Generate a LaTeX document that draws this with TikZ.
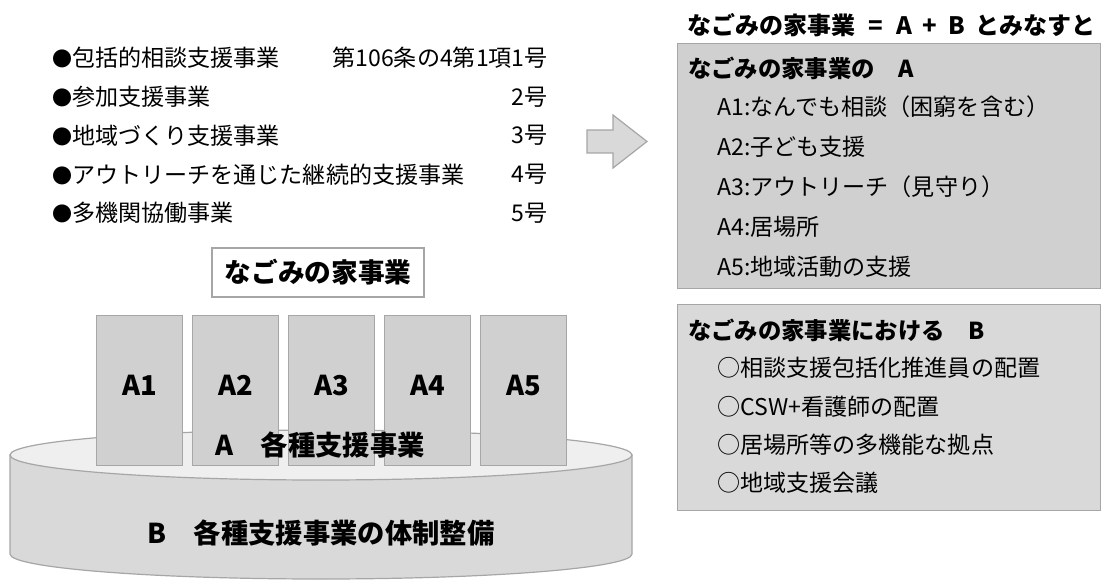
\documentclass[tikz,border=0pt]{standalone}
\usepackage{fontspec}
\setmainfont{Noto Sans CJK JP}
\usepackage{tikz}
\usetikzlibrary{positioning}

\definecolor{edgegray}{HTML}{A6A6A6}
\definecolor{colfill}{HTML}{D0D0D0}
\definecolor{panelA}{HTML}{D0D0D0}
\definecolor{panelB}{HTML}{D9D9D9}
\definecolor{sidefill}{HTML}{D9D9D9}
\definecolor{topfill}{HTML}{EFEFEF}
\newcommand{\dotmark}{{\fontsize{15}{15}\selectfont ●}}

\begin{document}
\begin{tikzpicture}[
        x=0.75pt, y=-0.75pt,
        item/.style={inner sep=0pt, font=\fontsize{17.3}{20}\selectfont},
        heading/.style={inner sep=0pt, font=\fontsize{17.5}{20}\selectfont\bfseries},
        bigtext/.style={inner sep=0pt, font=\fontsize{20.5}{24}\selectfont\bfseries},
        panel/.style={rectangle, draw=edgegray, line width=0.9pt, minimum width=317.25pt, anchor=north west, inner sep=0pt},
        column/.style={rectangle, draw=edgegray, fill=colfill, line width=0.9pt, minimum width=64.5pt, minimum height=112.5pt, inner sep=0pt, text height=14.6pt, text depth=7.5pt, font=\fontsize{20.5}{24}\selectfont\bfseries},
        shade/.style={draw=edgegray, line width=0.9pt}
    ]
    \useasboundingbox (0,0) rectangle (1102,581);

    % list of the five projects
    \node[item, anchor=west] (l1) at (52,58) {\dotmark 包括的相談支援事業};
    \node[item, anchor=east] (n1) at (548,58) {第106条の4第1項1号};
    \node[item, below=29.1pt of l1.west, anchor=west] (l2) {\dotmark 参加支援事業};
    \node[item, anchor=east] (n2) at (n1.east |- l2) {2号};
    \node[item, below=29.1pt of l2.west, anchor=west] (l3) {\dotmark 地域づくり支援事業};
    \node[item, anchor=east] (n3) at (n1.east |- l3) {3号};
    \node[item, below=29.1pt of l3.west, anchor=west] (l4) {\dotmark アウトリーチを通じた継続的支援事業};
    \node[item, anchor=east] (n4) at (n1.east |- l4) {4号};
    \node[item, below=29.1pt of l4.west, anchor=west] (l5) {\dotmark 多機関協働事業};
    \node[item, anchor=east] (n5) at (n1.east |- l5) {5号};

    \node[draw=edgegray, fill=white, line width=0.9pt, minimum width=159pt, minimum height=36.75pt, inner sep=0pt,
          font=\fontsize{20}{24}\selectfont\bfseries] (nagomi) at (318,272.5) {なごみの家事業};

    % cylinder B
    \path[shade, fill=sidefill] (10,455) -- (10,554) arc[start angle=180, end angle=0, x radius=311, y radius=25] -- (632,455) -- cycle;
    \path[shade, fill=topfill] (321,455) ellipse[x radius=311, y radius=25];

    % columns A1..A5
    \node[column, anchor=north west] (a1) at (96,315) {A1};
    \node[column, right=6.56pt of a1] (a2) {A2};
    \node[column, right=6.56pt of a2] (a3) {A3};
    \node[column, right=6.56pt of a3] (a4) {A4};
    \node[column, right=6.56pt of a4] (a5) {A5};

    \node[bigtext] (layerA) at (320,445) {A　各種支援事業};
    \node[bigtext] (layerB) at (321,533) {B　各種支援事業の体制整備};

    % arrow
    \path[shade, fill=sidefill] (587,130) -- (613,130) -- (613,115) -- (647,141.5) -- (613,168) -- (613,153) -- (587,153) -- cycle;

    % right side
    \node[heading, anchor=east, font=\fontsize{18}{22}\selectfont\bfseries] (title) at (1096,25)
        {なごみの家事業\hspace{0.55em}=\hspace{0.55em}A\hspace{0.45em}+\hspace{0.45em}B\hspace{0.45em}とみなすと};

    \node[panel, fill=panelA, minimum height=183.75pt] (boxA) at (677,43) {};
    \node[heading, anchor=west] (headA) at (688,68) {なごみの家事業の　A};
    \node[item, anchor=west] (itA1) at (717,107) {A1:なんでも相談（困窮を含む）};
    \node[item, below=30pt of itA1.west, anchor=west] (itA2) {A2:子ども支援};
    \node[item, below=30pt of itA2.west, anchor=west] (itA3) {A3:アウトリーチ（見守り）};
    \node[item, below=30pt of itA3.west, anchor=west] (itA4) {A4:居場所};
    \node[item, below=30pt of itA4.west, anchor=west] (itA5) {A5:地域活動の支援};

    \node[panel, fill=panelB, minimum height=154.5pt] (boxB) at (677,304) {};
    \node[heading, anchor=west] (headB) at (688,330) {なごみの家事業における　B};
    \node[item, anchor=west] (itB1) at (717,368) {○相談支援包括化推進員の配置};
    \node[item, below=28.7pt of itB1.west, anchor=west] (itB2) {○CSW+看護師の配置};
    \node[item, below=28.7pt of itB2.west, anchor=west] (itB3) {○居場所等の多機能な拠点};
    \node[item, below=28.7pt of itB3.west, anchor=west] (itB4) {○地域支援会議};
\end{tikzpicture}
\end{document}
